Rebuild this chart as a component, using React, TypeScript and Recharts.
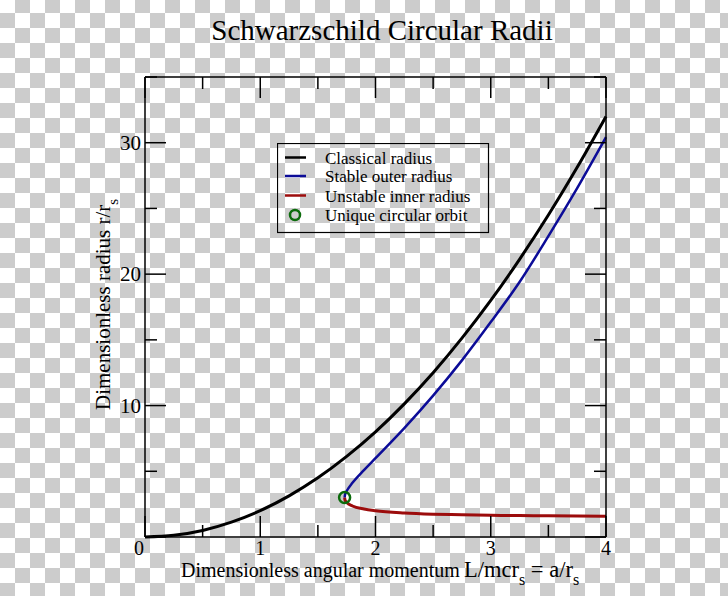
import React from "react";
import { ComposedChart, Line, Scatter, XAxis, YAxis, Legend } from "recharts";

const FONT = "'Liberation Serif', 'Times New Roman', serif";

// a = L/(m c r_s), r in units of r_s
const classicalA = [0, 0.25, 0.5, 0.75, 1, 1.25, 1.5, 1.75, 2, 2.25, 2.5, 2.75, 3, 3.25, 3.5, 3.75, 4];
const classicalR = [0, 0.13, 0.5, 1.13, 2, 3.13, 4.5, 6.13, 8, 10.13, 12.5, 15.13, 18, 21.13, 24.5, 28.13, 32];

const branchA = [1.732, 1.735, 1.74, 1.75, 1.8, 1.9, 2, 2.25, 2.5, 2.75, 3, 3.25, 3.5, 3.75, 4];
const stableR = [3, 3.19, 3.32, 3.5, 4.12, 5.09, 6, 8.29, 10.76, 13.44, 16.35, 19.4, 22.89, 26.54, 30.42];
const unstableR = [3, 2.83, 2.74, 2.63, 2.36, 2.13, 2, 1.83, 1.74, 1.69, 1.65, 1.63, 1.61, 1.59, 1.58];

const orbitA = [1.732];
const orbitR = [3];

const seriesNames = ["Classical radius", "Stable outer radius", "Unstable inner radius", "Unique circular orbit"];

const xTicks = [0, 0.5, 1, 1.5, 2, 2.5, 3, 3.5, 4];
const xLabels = [0, 1, 2, 3, 4];
const yTicks = [0, 5, 10, 15, 20, 25, 30, 35];
const yLabels = [10, 20, 30];

const BLACK = "#000000";
const BLUE = "#0c0c98";
const RED = "#9c0c0c";
const GREEN = "#0b6b0b";

const toPoints = (xs: number[], ys: number[]) => xs.map((a, i) => ({ a, r: ys[i] }));
const classical = toPoints(classicalA, classicalR);
const stable = toPoints(branchA, stableR);
const unstable = toPoints(branchA, unstableR);
const orbit = toPoints(orbitA, orbitR);

const MAJOR = 21;
const MINOR = 12;

function BottomTick(props: any) {
  const { x, y, payload } = props;
  const v = payload.value;
  const major = xLabels.includes(v);
  return (
    <g>
      <line x1={x} y1={y} x2={x} y2={y - (major ? MAJOR : MINOR)} stroke="#000" strokeWidth={1.5} />
      {major && (
        <text x={v === 0 ? x - 6 : x} y={y + 18} textAnchor="middle" fontSize={20} fontFamily={FONT} fill="#000">
          {v}
        </text>
      )}
    </g>
  );
}

function TopTick(props: any) {
  const { x, y, payload } = props;
  const major = xLabels.includes(payload.value);
  return <line x1={x} y1={y} x2={x} y2={y + (major ? MAJOR : MINOR)} stroke="#000" strokeWidth={1.5} />;
}

function LeftTick(props: any) {
  const { x, y, payload } = props;
  const v = payload.value;
  const major = v % 10 === 0;
  return (
    <g>
      <line x1={x} y1={y} x2={x + (major ? MAJOR : MINOR)} y2={y} stroke="#000" strokeWidth={1.5} />
      {yLabels.includes(v) && (
        <text x={x - 4} y={y + 7} textAnchor="end" fontSize={21} fontFamily={FONT} fill="#000">
          {v}
        </text>
      )}
    </g>
  );
}

function RightTick(props: any) {
  const { x, y, payload } = props;
  const major = payload.value % 10 === 0;
  return <line x1={x} y1={y} x2={x - (major ? MAJOR : MINOR)} y2={y} stroke="#000" strokeWidth={1.5} />;
}

function XTitle() {
  return (
    <g>
      <text x={382} y={40} textAnchor="middle" fontSize={29} fontFamily={FONT} fill="#000">
        Schwarzschild Circular Radii
      </text>
      <text x={181} y={577} fontSize={20} fontFamily={FONT} fill="#000">
        <tspan>Dimensionless angular momentum</tspan>
        <tspan x={464} fontSize={22.5}>L/mcr</tspan>
        <tspan dy={8} fontSize={16}>s</tspan>
        <tspan dy={-8} fontSize={22.5}> = a/r</tspan>
        <tspan dy={8} fontSize={16}>s</tspan>
      </text>
    </g>
  );
}

function YTitle() {
  return (
    <text transform="translate(110, 410) rotate(-90)" x={0} y={0} fontSize={21} fontFamily={FONT} fill="#000">
      <tspan>Dimensionless radius r/r</tspan>
      <tspan dy={8} fontSize={15}>s</tspan>
    </text>
  );
}

function LegendBox(props: any) {
  const items = [...((props.payload || []) as any[])].sort(
    (p, q) => seriesNames.indexOf(p.value) - seriesNames.indexOf(q.value)
  );
  return (
    <svg width={213} height={91} style={{ display: "block" }}>
      <rect x={0.5} y={0.5} width={211} height={89} fill="none" stroke="#000" strokeWidth={1.2} />
      {items.map((item, i) => {
        const cy = [14.5, 33, 52.5, 72][i];
        const isOrbit = item.value === "Unique circular orbit";
        return (
          <g key={item.value}>
            {isOrbit ? (
              <circle cx={18} cy={cy} r={5} fill="none" stroke={GREEN} strokeWidth={2.5} />
            ) : (
              <line x1={8} y1={cy} x2={29} y2={cy} stroke={item.color} strokeWidth={2.5} />
            )}
            <text x={48} y={cy + 6} fontSize={17} fontFamily={FONT} fill="#000">
              {item.value}
            </text>
          </g>
        );
      })}
    </svg>
  );
}

function OrbitMark(props: any) {
  const { cx, cy } = props;
  return <circle cx={cx} cy={cy} r={5.5} fill="none" stroke={GREEN} strokeWidth={2.5} />;
}

export default function App() {
  return (
    <div
      style={{
        position: "absolute",
        left: 0,
        top: 0,
        width: 728,
        height: 596,
        backgroundColor: "#ffffff",
        backgroundImage: "conic-gradient(#cccccc 0 25%, #ffffff 0 50%, #cccccc 0 75%, #ffffff 0)",
        backgroundSize: "30px 30px",
        backgroundPosition: "0 -2px",
      }}
    >
      <ComposedChart width={728} height={596} margin={{ top: 76, right: 121, bottom: 29, left: 85 }}>
        <XAxis
          dataKey="a"
          type="number"
          domain={[0, 4]}
          ticks={xTicks}
          interval={0}
          height={30}
          tickSize={0}
          tickMargin={0}
          tickLine={false}
          axisLine={{ stroke: "#000", strokeWidth: 1.5 }}
          tick={<BottomTick />}
          label={<XTitle />}
        />
        <XAxis
          xAxisId="top"
          orientation="top"
          dataKey="a"
          type="number"
          domain={[0, 4]}
          ticks={xTicks}
          interval={0}
          height={1}
          tickSize={0}
          tickMargin={0}
          tickLine={false}
          axisLine={{ stroke: "#000", strokeWidth: 1.5 }}
          tick={<TopTick />}
        />
        <YAxis
          type="number"
          domain={[0, 35]}
          ticks={yTicks}
          interval={0}
          width={60}
          tickSize={0}
          tickMargin={0}
          tickLine={false}
          axisLine={{ stroke: "#000", strokeWidth: 1.5 }}
          tick={<LeftTick />}
          label={<YTitle />}
        />
        <YAxis
          yAxisId="right"
          orientation="right"
          type="number"
          domain={[0, 35]}
          ticks={yTicks}
          interval={0}
          width={1}
          tickSize={0}
          tickMargin={0}
          tickLine={false}
          axisLine={{ stroke: "#000", strokeWidth: 1.5 }}
          tick={<RightTick />}
        />
        <Legend
          layout="vertical"
          align="center"
          verticalAlign="middle"
          content={<LegendBox />}
          wrapperStyle={{ left: 277, top: 143, width: 213, height: 91, right: "auto", bottom: "auto" }}
        />
        <Line
          data={classical}
          dataKey="r"
          name={seriesNames[0]}
          type="monotone"
          stroke={BLACK}
          strokeWidth={3}
          dot={false}
          activeDot={false}
          isAnimationActive={false}
        />
        <Line
          data={stable}
          dataKey="r"
          name={seriesNames[1]}
          type="monotone"
          stroke={BLUE}
          strokeWidth={2.5}
          dot={false}
          activeDot={false}
          isAnimationActive={false}
        />
        <Line
          data={unstable}
          dataKey="r"
          name={seriesNames[2]}
          type="monotone"
          stroke={RED}
          strokeWidth={3}
          dot={false}
          activeDot={false}
          isAnimationActive={false}
        />
        <Scatter
          data={orbit}
          dataKey="r"
          xAxisId="top"
          yAxisId="right"
          name={seriesNames[3]}
          legendType="circle"
          fill="none"
          stroke={GREEN}
          shape={<OrbitMark />}
          isAnimationActive={false}
        />
      </ComposedChart>
    </div>
  );
}
